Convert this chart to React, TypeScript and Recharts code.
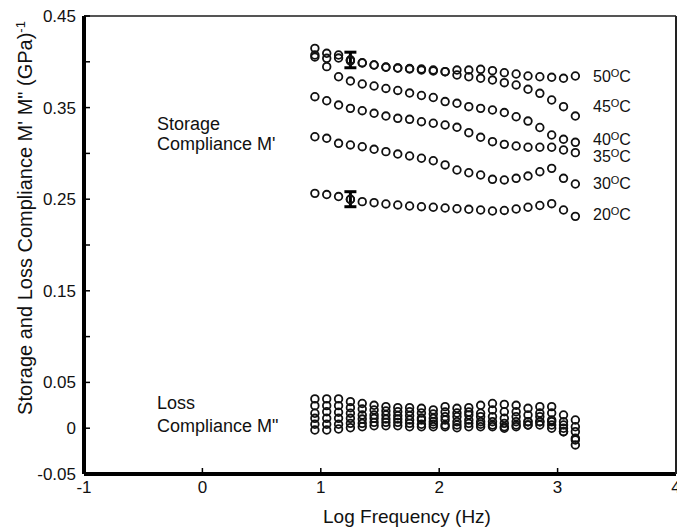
import { ErrorBar, Scatter, ScatterChart, XAxis, YAxis } from "recharts"

// log frequency (Hz) of every measured point
const logFreq = [
  0.95, 1.05, 1.15, 1.25, 1.35, 1.45, 1.55, 1.65, 1.75, 1.85, 1.95, 2.05,
  2.15, 2.25, 2.35, 2.45, 2.55, 2.65, 2.75, 2.85, 2.95, 3.05, 3.15,
]

// storage compliance M' per temperature
const storage50 = [0.4147, 0.4093, 0.4074, 0.402, 0.399, 0.3965, 0.394, 0.3932, 0.3927, 0.3921, 0.391, 0.3892, 0.391, 0.391, 0.3918, 0.3903, 0.3881, 0.3867, 0.3845, 0.3837, 0.3831, 0.382, 0.3845]
const storage45 = [0.4074, 0.4038, 0.4041, 0.4009, 0.3987, 0.3965, 0.3943, 0.3932, 0.3921, 0.391, 0.39, 0.3892, 0.3856, 0.3837, 0.382, 0.3801, 0.3772, 0.3747, 0.37, 0.3656, 0.3583, 0.351, 0.3408]
const storage40 = [0.4052, 0.3947, 0.3837, 0.379, 0.3758, 0.3736, 0.3709, 0.3687, 0.3659, 0.3632, 0.361, 0.3566, 0.3547, 0.351, 0.3492, 0.3474, 0.3446, 0.34, 0.3353, 0.3283, 0.3201, 0.3154, 0.3121]
const storage35 = [0.3619, 0.3575, 0.3528, 0.3492, 0.3466, 0.3438, 0.3408, 0.3383, 0.3372, 0.3346, 0.3329, 0.331, 0.3285, 0.3226, 0.3176, 0.3128, 0.3099, 0.3081, 0.3067, 0.3067, 0.3067, 0.3037, 0.3008]
const storage30 = [0.3182, 0.3165, 0.311, 0.3092, 0.3073, 0.3045, 0.3019, 0.2993, 0.2972, 0.2947, 0.292, 0.2874, 0.2819, 0.2789, 0.2764, 0.2717, 0.271, 0.2728, 0.2753, 0.28, 0.2837, 0.2728, 0.2666]
const storage20 = [0.2564, 0.2551, 0.2529, 0.2497, 0.2473, 0.2462, 0.2448, 0.2437, 0.2426, 0.2418, 0.2412, 0.2404, 0.2396, 0.239, 0.2382, 0.2371, 0.2377, 0.2393, 0.2412, 0.2431, 0.2451, 0.2382, 0.2313]

// loss compliance M" (six temperatures, bunched together near zero)
const loss1 = [0.032, 0.032, 0.032, 0.029, 0.027, 0.025, 0.0235, 0.0224, 0.0224, 0.0217, 0.02, 0.0235, 0.0217, 0.0224, 0.025, 0.027, 0.026, 0.025, 0.0217, 0.0235, 0.0235, 0.0144, 0.009]
const loss2 = [0.0246, 0.0246, 0.0246, 0.0224, 0.021, 0.0199, 0.0188, 0.018, 0.018, 0.0166, 0.0155, 0.0177, 0.0166, 0.0177, 0.0163, 0.0199, 0.018, 0.018, 0.0144, 0.0166, 0.0166, 0.0071, 0.0016]
const loss3 = [0.0163, 0.018, 0.0174, 0.0163, 0.0144, 0.0144, 0.0144, 0.0136, 0.0136, 0.0111, 0.0108, 0.0126, 0.0126, 0.0144, 0.0126, 0.0126, 0.0108, 0.0126, 0.0071, 0.0126, 0.009, 0.0035, -0.0038]
const loss4 = [0.0108, 0.0108, 0.0108, 0.0108, 0.01, 0.0108, 0.01, 0.01, 0.009, 0.009, 0.0071, 0.009, 0.0071, 0.009, 0.0071, 0.0071, 0.0053, 0.0071, 0.0071, 0.0071, 0.0071, -0.0001, -0.011]
const loss5 = [0.0043, 0.0043, 0.0043, 0.0053, 0.0053, 0.0064, 0.0064, 0.0064, 0.0053, 0.0043, 0.0043, 0.0035, 0.0035, 0.0053, 0.0043, 0.0035, 0.0016, 0.0035, 0.0035, 0.0035, 0.0035, -0.0038, -0.0129]
const loss6 = [-0.002, -0.002, -0.0009, 0.0005, 0.0016, 0.0027, 0.0027, 0.0027, 0.0016, 0.0016, 0.0016, 0.0016, 0.0005, 0.0016, 0.0016, 0.0016, -0.0001, 0.0016, 0.0035, 0.0071, -0.0001, -0.0038, -0.0183]

// error bars shown at log f = 1.25 on the 50 and 20 C curves
const errorPoints = [
  { f: 1.25, v: 0.402, e: 0.0085 },
  { f: 1.25, v: 0.25, e: 0.0082 },
]

const tempLabels = ["50", "45", "40", "35", "30", "20"]

const xTicks = [-1, 0, 1, 2, 3, 4]
const xTickLabels = ["-1", "0", "1", "2", "3", "4"]
const yTicks = [-0.05, 0, 0.05, 0.1, 0.15, 0.2, 0.25, 0.3, 0.35, 0.4, 0.45]
const yTickLabels = ["-0.05", "0", "0.05", "", "0.15", "", "0.25", "", "0.35", "", "0.45"]

const allSeries = [storage50, storage45, storage40, storage35, storage30, storage20, loss1, loss2, loss3, loss4, loss5, loss6]

const toPoints = (vals: number[]) => logFreq.map((f, i) => ({ f, v: vals[i] }))

const FONT = '"Liberation Sans", Arial, Helvetica, sans-serif'

function Ring(props: any) {
  const { cx, cy } = props
  if (cx == null || cy == null) return null
  return <circle cx={cx} cy={cy} r={3.8} fill="none" stroke="#111" strokeWidth={1.8} />
}

// label rows next to the right end of the storage curves
const tempLabelY = [82, 112, 145, 162, 189, 220]

export default function App() {
  return (
    <div style={{ position: "absolute", left: 0, top: 0, width: 677, height: 528, background: "#fff", fontFamily: FONT }}>
      <ScatterChart width={677} height={528} margin={{ top: 15, right: 0, bottom: 24, left: 24 }}>
        <XAxis
          xAxisId="b"
          type="number"
          dataKey="f"
          domain={[-1, 4]}
          ticks={xTicks}
          interval={0}
          allowDataOverflow
          height={30}
          stroke="#000"
          strokeWidth={4}
          axisLine={{ stroke: "#000", strokeWidth: 4 }}
          tickLine={{ stroke: "#000", strokeWidth: 1.5 }}
          tickSize={-6}
          tickMargin={13}
          tick={{ fill: "#111", fontSize: 17, fontFamily: FONT, stroke: "none" }}
          tickFormatter={(_v, i) => xTickLabels[i]}
        />
        <XAxis
          xAxisId="t"
          orientation="top"
          type="number"
          domain={[-1, 4]}
          ticks={xTicks}
          interval={0}
          allowDataOverflow
          height={1}
          stroke="#555"
          strokeWidth={2}
          axisLine={{ stroke: "#555", strokeWidth: 2 }}
          tickLine={{ stroke: "#222", strokeWidth: 1.5 }}
          tickSize={-6}
          tick={false}
        />
        <YAxis
          yAxisId="l"
          type="number"
          dataKey="v"
          domain={[-0.05, 0.45]}
          ticks={yTicks}
          interval={0}
          allowDataOverflow
          width={60}
          stroke="#000"
          strokeWidth={4}
          axisLine={{ stroke: "#000", strokeWidth: 4 }}
          tickLine={{ stroke: "#000", strokeWidth: 1.5 }}
          tickSize={-6}
          tickMargin={14}
          tick={{ fill: "#111", fontSize: 17, fontFamily: FONT, stroke: "none" }}
          tickFormatter={(_v, i) => yTickLabels[i]}
        />
        <YAxis
          yAxisId="r"
          orientation="right"
          type="number"
          domain={[-0.05, 0.45]}
          ticks={yTicks}
          interval={0}
          allowDataOverflow
          width={1}
          stroke="#222"
          strokeWidth={2}
          axisLine={{ stroke: "#222", strokeWidth: 2 }}
          tickLine={{ stroke: "#222", strokeWidth: 1.5 }}
          tickSize={-6}
          tick={false}
        />
        {allSeries.map((vals, k) => (
          <Scatter
            key={k}
            xAxisId="b"
            yAxisId="l"
            data={toPoints(vals)}
            dataKey="v"
            shape={Ring}
            isAnimationActive={false}
          />
        ))}
        <Scatter xAxisId="b" yAxisId="l" data={errorPoints} dataKey="v" shape={Ring} isAnimationActive={false}>
          <ErrorBar dataKey="e" direction="y" width={6} stroke="#000" strokeWidth={3} isAnimationActive={false} />
        </Scatter>
      </ScatterChart>

      <svg width={677} height={528} style={{ position: "absolute", left: 0, top: 0, pointerEvents: "none" }} fontFamily={FONT} fill="#111">
        <text transform="translate(32,218) rotate(-90)" textAnchor="middle" fontSize={20}>
          Storage and Loss Compliance M' M" (GPa)
          <tspan dy={-7} fontSize={13}>-1</tspan>
        </text>
        <text x={407} y={523} textAnchor="middle" fontSize={19}>Log Frequency (Hz)</text>
        <text x={157} y={130} fontSize={18}>Storage</text>
        <text x={157} y={150} fontSize={18}>Compliance M'</text>
        <text x={157} y={409} fontSize={18}>Loss</text>
        <text x={157} y={432} fontSize={18}>Compliance M"</text>
        {tempLabels.map((t, i) => (
          <text key={t} x={593} y={tempLabelY[i]} fontSize={16}>
            {t}
            <tspan fontSize={11} dy={-5}>O</tspan>
            <tspan dy={5}>C</tspan>
          </text>
        ))}
      </svg>
    </div>
  )
}
